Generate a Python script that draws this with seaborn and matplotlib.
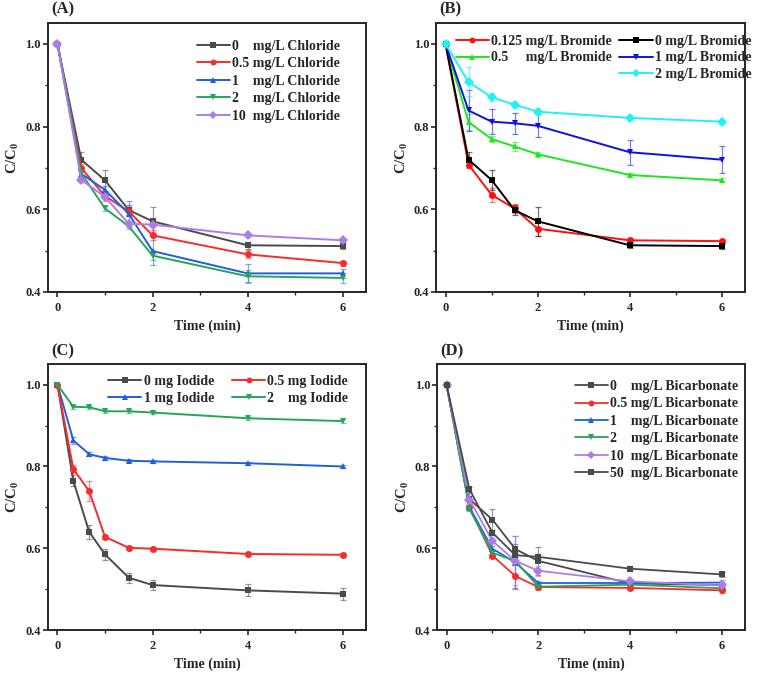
import numpy as np
import pandas as pd
import matplotlib
matplotlib.use("Agg")
import matplotlib.pyplot as plt
import seaborn as sns
from matplotlib.lines import Line2D
from matplotlib.ticker import MultipleLocator

sns.set_style("ticks")
plt.rcParams["font.family"] = ["Liberation Serif", "DejaVu Serif"]
plt.rcParams["font.weight"] = "bold"
plt.rcParams["axes.labelweight"] = "bold"
plt.rcParams["mathtext.fontset"] = "custom"
plt.rcParams["mathtext.rm"] = "Liberation Serif:bold"
plt.rcParams["mathtext.it"] = "Liberation Serif:bold"
plt.rcParams["mathtext.bf"] = "Liberation Serif:bold"

# time points (min)
t_std = [0, 0.5, 1, 1.5, 2, 4, 6]
t_iod = [0, 0.333, 0.667, 1, 1.5, 2, 4, 6]

# (A) chloride
cl_labels = ["0    mg/L Chloride", "0.5 mg/L Chloride", "1    mg/L Chloride",
             "2    mg/L Chloride", "10  mg/L Chloride"]
cl_0 = [1.0, 0.72, 0.67, 0.598, 0.571, 0.513, 0.511]
cl_05 = [1.0, 0.70, 0.632, 0.595, 0.537, 0.491, 0.470]
cl_1 = [1.0, 0.686, 0.647, 0.589, 0.499, 0.445, 0.445]
cl_2 = [1.0, 0.687, 0.602, 0.559, 0.488, 0.438, 0.434]
cl_10 = [1.0, 0.671, 0.630, 0.565, 0.563, 0.537, 0.525]
cl_0_err = [0, 0.018, 0.025, 0.012, 0.035, 0.008, 0.008]
cl_05_err = [0, 0.01, 0.012, 0.01, 0.012, 0.01, 0.006]
cl_1_err = [0, 0.01, 0.01, 0.032, 0.033, 0.022, 0.01]
cl_2_err = [0, 0.008, 0.006, 0.006, 0.01, 0.016, 0.012]
cl_10_err = [0, 0.006, 0.006, 0.006, 0.006, 0.005, 0.005]

# (B) bromide
br_labels = ["0.125 mg/L Bromide", "0.5     mg/L Bromide", "0 mg/L Bromide",
             "1 mg/L Bromide", "2 mg/L Bromide"]
br_0125 = [1.0, 0.708, 0.635, 0.602, 0.553, 0.525, 0.523]
br_05 = [1.0, 0.811, 0.770, 0.752, 0.733, 0.683, 0.670]
br_0 = [1.0, 0.72, 0.671, 0.598, 0.571, 0.513, 0.511]
br_1 = [1.0, 0.839, 0.812, 0.808, 0.802, 0.738, 0.72]
br_2 = [1.0, 0.908, 0.871, 0.853, 0.836, 0.821, 0.812]
br_0125_err = [0, 0.008, 0.017, 0.012, 0.017, 0.005, 0.005]
br_05_err = [0, 0.02, 0.008, 0.01, 0.006, 0.005, 0.005]
br_0_err = [0, 0.018, 0.025, 0.012, 0.035, 0.006, 0.006]
br_1_err = [0, 0.05, 0.03, 0.025, 0.028, 0.03, 0.033]
br_2_err = [0, 0.035, 0.008, 0.006, 0.006, 0.005, 0.005]

# (C) iodide
io_labels = ["0 mg Iodide", "1 mg Iodide", "0.5 mg Iodide", "2    mg Iodide"]
io_0 = [1.0, 0.765, 0.640, 0.585, 0.528, 0.510, 0.497, 0.489]
io_1 = [1.0, 0.864, 0.830, 0.821, 0.814, 0.8125, 0.808, 0.800]
io_05 = [1.0, 0.794, 0.740, 0.628, 0.601, 0.599, 0.586, 0.584]
io_2 = [1.0, 0.946, 0.945, 0.935, 0.935, 0.932, 0.918, 0.911]
io_0_err = [0, 0.013, 0.018, 0.013, 0.012, 0.012, 0.015, 0.015]
io_1_err = [0, 0.008, 0.005, 0.004, 0.004, 0.004, 0.004, 0.004]
io_05_err = [0, 0.01, 0.025, 0.005, 0.005, 0.005, 0.005, 0.005]
io_2_err = [0, 0.005, 0.004, 0.004, 0.004, 0.004, 0.004, 0.004]

# (D) bicarbonate
bc_labels = ["0    mg/L Bicarbonate", "0.5 mg/L Bicarbonate", "1    mg/L Bicarbonate",
             "2    mg/L Bicarbonate", "10  mg/L Bicarbonate", "50  mg/L Bicarbonate"]
bc_0 = [1.0, 0.72, 0.670, 0.598, 0.569, 0.514, 0.510]
bc_05 = [1.0, 0.70, 0.582, 0.532, 0.505, 0.503, 0.497]
bc_1 = [1.0, 0.70, 0.599, 0.565, 0.515, 0.515, 0.516]
bc_2 = [1.0, 0.696, 0.589, 0.569, 0.506, 0.511, 0.502]
bc_10 = [1.0, 0.719, 0.618, 0.569, 0.545, 0.519, 0.509]
bc_50 = [1.0, 0.744, 0.638, 0.583, 0.579, 0.550, 0.536]
bc_0_err = [0, 0.018, 0.025, 0.012, 0.035, 0.006, 0.006]
bc_05_err = [0, 0.006, 0.006, 0.03, 0.006, 0.006, 0.006]
bc_1_err = [0, 0.006, 0.006, 0.065, 0.006, 0.006, 0.006]
bc_2_err = [0, 0.006, 0.006, 0.006, 0.006, 0.006, 0.006]
bc_10_err = [0, 0.006, 0.006, 0.06, 0.012, 0.006, 0.006]
bc_50_err = [0, 0.006, 0.006, 0.006, 0.006, 0.006, 0.006]

GRAY, RED, BLUE, GREEN, PURPLE = "#4a4a4a", "#f52c2c", "#1e5fe0", "#25a55a", "#ad7de6"

fig = plt.figure(figsize=(7.58, 6.77), dpi=100)
ax_a = fig.add_axes([0.0633, 0.5687, 0.420, 0.397])
ax_b = fig.add_axes([0.5756, 0.5687, 0.4069, 0.397])
ax_c = fig.add_axes([0.0633, 0.0694, 0.420, 0.3925])
ax_d = fig.add_axes([0.5770, 0.0694, 0.4055, 0.3925])


def draw(ax, t, y, err, color, marker, label, lw=1.4):
    ax.errorbar(t, y, yerr=err, fmt="none", ecolor=color, alpha=0.55,
                elinewidth=0.9, capsize=2.5, capthick=0.9, zorder=2)
    sns.lineplot(x=t, y=y, ax=ax, color=color, marker=marker, markersize=5,
                 markeredgewidth=0, linewidth=lw, label=label, zorder=3)


def style(ax, tag):
    ax.set_xlim(-0.2, 6.5)
    ax.set_ylim(0.4, 1.05)
    ax.set_xticks([0, 2, 4, 6])
    ax.set_yticks([0.4, 0.6, 0.8, 1.0])
    ax.xaxis.set_minor_locator(MultipleLocator(1))
    ax.yaxis.set_minor_locator(MultipleLocator(0.1))
    ax.tick_params(which="major", direction="out", length=3.5, width=1.2, labelsize=9)
    ax.tick_params(which="minor", direction="out", length=2, width=1.0)
    ax.tick_params(axis="y", which="both", pad=1.5)
    for lab in ax.get_xticklabels() + ax.get_yticklabels():
        lab.set_fontweight("bold")
    for s in ax.spines.values():
        s.set_linewidth(1.4)
        s.set_visible(True)
    ax.set_xlabel("Time (min)", fontsize=10, fontweight="bold")
    ax.set_ylabel("C/C$_0$", fontsize=10.5, fontweight="bold", labelpad=3)
    ax.text(0.01, 1.02, tag, transform=ax.transAxes, fontsize=12,
            fontweight="bold", ha="left", va="bottom")


leg_kw = dict(frameon=False, fontsize=10, handlelength=2.4, handletextpad=0.15,
              borderaxespad=0, markerscale=0.85)

# (A)
for y, e, c, m, lab in zip([cl_0, cl_05, cl_1, cl_2, cl_10],
                           [cl_0_err, cl_05_err, cl_1_err, cl_2_err, cl_10_err],
                           [GRAY, RED, BLUE, GREEN, PURPLE],
                           ["s", "o", "^", "v", "D"], cl_labels):
    draw(ax_a, t_std, y, e, c, m, lab)
style(ax_a, "(A)")
ax_a.legend(loc="upper right", bbox_to_anchor=(0.935, 0.959), labelspacing=0.32, **leg_kw)

# (B)
for y, e, c, m, lab in zip([br_0125, br_05, br_0, br_1, br_2],
                           [br_0125_err, br_05_err, br_0_err, br_1_err, br_2_err],
                           ["#ff0f0f", "#1fe61f", "#000000", "#1010e0", "#1ff2f2"],
                           ["o", "^", "s", "v", "D"], br_labels):
    draw(ax_b, t_std, y, e, c, m, lab)
style(ax_b, "(B)")
h, l = ax_b.get_legend_handles_labels()
blank = Line2D([], [], color="none")
ax_b.legend(h[:2] + [blank] + h[2:], l[:2] + [""] + l[2:], ncol=2,
            loc="upper right", bbox_to_anchor=(1.04, 0.977), columnspacing=0.55,
            labelspacing=0.25, **leg_kw)

# (C)
for y, e, c, m, lab in zip([io_0, io_1, io_05, io_2],
                           [io_0_err, io_1_err, io_05_err, io_2_err],
                           [GRAY, BLUE, RED, GREEN],
                           ["s", "^", "o", "v"], io_labels):
    draw(ax_c, t_iod, y, e, c, m, lab)
style(ax_c, "(C)")
ax_c.legend(ncol=2, loc="upper right", bbox_to_anchor=(0.961, 0.98), columnspacing=1.3,
            labelspacing=0.29, **leg_kw)

# (D)
for y, e, c, m, lab in zip([bc_0, bc_05, bc_1, bc_2, bc_10, bc_50],
                           [bc_0_err, bc_05_err, bc_1_err, bc_2_err, bc_10_err, bc_50_err],
                           [GRAY, RED, BLUE, GREEN, PURPLE, GRAY],
                           ["s", "o", "^", "v", "D", "s"], bc_labels):
    draw(ax_d, t_std, y, e, c, m, lab, lw=1.3)
style(ax_d, "(D)")
ax_d.legend(loc="upper right", bbox_to_anchor=(0.997, 0.962), labelspacing=0.32, **leg_kw)

fig.savefig("out.png", dpi=100)
